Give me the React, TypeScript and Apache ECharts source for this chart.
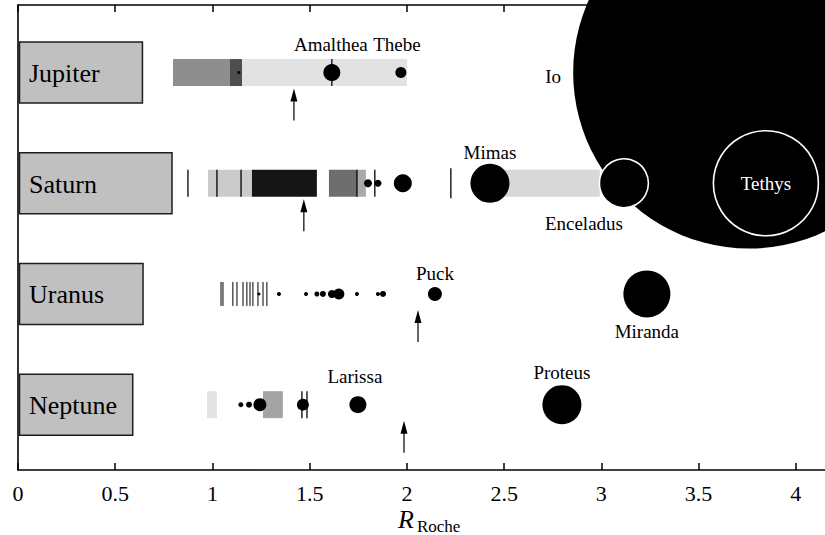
import { useEffect, useRef } from 'react';
import * as echarts from 'echarts';

// Rows, bottom to top (row index = position on the hidden y axis)
const planets = ['Neptune', 'Uranus', 'Saturn', 'Jupiter'];
// Planet radius in units of the Roche limit (width of the grey boxes)
const planetRadius = [0.59, 0.643, 0.792, 0.64];

const xTicks = [0, 0.5, 1, 1.5, 2, 2.5, 3, 3.5, 4];

// Broad rings: [start, end, kind]
const jupiterRings: [number, number, string][] = [
  [0.797, 1.09, 'halo'],
  [1.09, 1.152, 'main'],
  [1.152, 2.0, 'gossamer'],
];
const saturnRings: [number, number, string][] = [
  [0.977, 1.203, 'C'],
  [1.203, 1.537, 'B'],
  [1.599, 1.743, 'A'],
  [1.743, 1.789, 'F'],
  [2.45, 2.992, 'E'],
];
const uranusRings: [number, number, string][] = [];
const neptuneRings: [number, number, string][] = [
  [0.972, 1.023, 'faint'],
  [1.26, 1.362, 'arcs'],
];

// Narrow ringlets (vertical strokes)
const jupiterLines = [1.614];
const saturnLines = [0.874, 1.023, 1.147, 1.743, 1.835, 2.226];
const uranusLines = [1.044, 1.054, 1.105, 1.126, 1.157, 1.177, 1.193, 1.208, 1.234, 1.26, 1.28];
const neptuneLines = [1.46, 1.486];

// Satellites: [name, distance (R_Roche), symbol diameter]
const jupiterMoons: [string, number, number][] = [
  ['Metis', 1.136, 3],
  ['Amalthea', 1.614, 17],
  ['Thebe', 1.969, 11],
];
const jupiterIo: [string, number, number] = ['Io', 3.76, 352];
const saturnMoons: [string, number, number][] = [
  ['Prometheus', 1.8, 8],
  ['Pandora', 1.851, 7],
  ['Janus', 1.979, 18],
  ['Mimas', 2.427, 39],
  ['Enceladus', 3.116, 49],
  ['Tethys', 3.846, 105],
];
const uranusMoons: [string, number, number][] = [
  ['Cordelia', 1.239, 3],
  ['Ophelia', 1.342, 4],
  ['Bianca', 1.481, 4],
  ['Cressida', 1.537, 5],
  ['Desdemona', 1.568, 6],
  ['Juliet', 1.614, 8],
  ['Portia', 1.65, 11],
  ['Rosalind', 1.743, 4],
  ['Perdita', 1.851, 4],
  ['Belinda', 1.877, 6],
  ['Puck', 2.144, 14],
  ['Miranda', 3.234, 47],
];
const neptuneMoons: [string, number, number][] = [
  ['Naiad', 1.146, 5],
  ['Thalassa', 1.188, 6],
  ['Despina', 1.244, 13],
  ['Galatea', 1.465, 12],
  ['Larissa', 1.748, 17],
  ['Proteus', 2.797, 39],
];

// Arrows (synchronous orbit), per row bottom to top
const syncOrbit = [1.985, 2.057, 1.47, 1.419];

// ---------- styling / layout (not data) ----------
const SERIF = 'Liberation Serif, Times New Roman, Times, serif';
const ringColors: Record<string, string> = {
  halo: '#8e8e8e',
  main: '#4e4e4e',
  gossamer: '#e2e2e2',
  C: '#cbcbcb',
  B: '#151515',
  A: '#6e6e6e',
  F: '#a9a9a9',
  E: '#d8d8d8',
  faint: '#e4e4e4',
  arcs: '#a4a4a4',
};
const labelOffsets: Record<string, [number, number]> = {
  Amalthea: [-1, -28],
  Thebe: [-4, -28],
  Io: [-196, 4],
  Mimas: [0, -31],
  Enceladus: [-40, 40],
  Tethys: [0, 0],
  Puck: [0, -20],
  Miranda: [0, 38],
  Larissa: [-3, -28],
  Proteus: [0, -32],
};
const outlined = ['Enceladus', 'Tethys'];

const row = (p: string) => planets.indexOf(p);

const ringItems = (
  [
    ['Jupiter', jupiterRings],
    ['Saturn', saturnRings],
    ['Uranus', uranusRings],
    ['Neptune', neptuneRings],
  ] as [string, [number, number, string][]][]
).flatMap(([p, rs]) => rs.map(([a, b, k]) => ({ x0: a, x1: b, row: row(p), kind: k })));

const lineItems = (
  [
    ['Jupiter', jupiterLines],
    ['Saturn', saturnLines],
    ['Uranus', uranusLines],
    ['Neptune', neptuneLines],
  ] as [string, number[]][]
).flatMap(([p, ls]) => ls.map((x) => ({ x, row: row(p), planet: p })));

const moonItems = (
  [
    ['Jupiter', jupiterMoons],
    ['Saturn', saturnMoons],
    ['Uranus', uranusMoons],
    ['Neptune', neptuneMoons],
  ] as [string, [string, number, number][]][]
).flatMap(([p, ms]) => ms.map(([n, x, s]) => ({ name: n, x, size: s, row: row(p) })));

const toScatter = (m: { name: string; x: number; size: number; row: number }) => {
  const off = labelOffsets[m.name];
  return {
    name: m.name,
    value: [m.x, m.row, m.size],
    label: off
      ? {
          show: true,
          position: 'inside',
          offset: off,
          formatter: '{b}',
          color: m.name === 'Tethys' ? '#fff' : '#000',
          fontSize: 19,
          fontFamily: SERIF,
        }
      : { show: false },
    itemStyle: outlined.includes(m.name) ? { borderColor: '#fff', borderWidth: 1.6 } : undefined,
  };
};

const option: any = {
  animation: false,
  backgroundColor: '#fff',
  grid: { left: 18, right: 0, top: 5, bottom: 65, containLabel: false, outerBoundsMode: 'none' },
  xAxis: [
    {
      type: 'value',
      position: 'bottom',
      min: 0,
      max: 4.15,
      axisLine: { show: true, onZero: false, lineStyle: { color: '#000', width: 1.6 } },
      axisTick: { show: true, inside: true, length: 7, customValues: xTicks, lineStyle: { color: '#000', width: 1.5 } },
      axisLabel: { show: true, customValues: xTicks, fontSize: 22, lineHeight: 20, fontFamily: SERIF, color: '#000', margin: 13 },
      splitLine: { show: false },
    },
    {
      type: 'value',
      position: 'top',
      min: 0,
      max: 4.15,
      axisLine: { show: true, onZero: false, lineStyle: { color: '#000', width: 1.6 } },
      axisTick: { show: true, inside: true, length: 7, customValues: xTicks, lineStyle: { color: '#000', width: 1.5 } },
      axisLabel: { show: false },
      splitLine: { show: false },
    },
  ],
  yAxis: {
    type: 'value',
    min: -0.59,
    max: 3.61,
    axisLine: { show: true, onZero: false, lineStyle: { color: '#000', width: 1.6 } },
    axisTick: { show: false },
    axisLabel: { show: false },
    splitLine: { show: false },
  },
  graphic: [
    {
      type: 'text',
      x: 398,
      y: 506,
      style: {
        text: '{r|R}{s|Roche}',
        align: 'left',
        verticalAlign: 'top',
        fill: '#000',
        rich: {
          r: { fontSize: 26, lineHeight: 23, fontStyle: 'italic', fontFamily: SERIF, fill: '#000', verticalAlign: 'top' },
          s: { fontSize: 17, lineHeight: 17, fontFamily: SERIF, fill: '#000', verticalAlign: 'top', padding: [12, 0, 0, 3] },
        },
      },
    },
  ],
  series: [
    {
      type: 'custom',
      name: 'planets',
      z: 2,
      silent: true,
      data: planets.map((p, i) => [0, planetRadius[i], i]),
      encode: { x: [0, 1], y: 2 },
      renderItem: (params: any, api: any) => {
        const r = api.value(2);
        const p0 = api.coord([api.value(0), r]);
        const p1 = api.coord([api.value(1), r]);
        const h = 61;
        return {
          type: 'group',
          children: [
            {
              type: 'rect',
              shape: { x: p0[0] + 1.5, y: p0[1] - h / 2, width: p1[0] - p0[0] - 1.5, height: h },
              style: { fill: '#c0c0c0', stroke: '#1e1e1e', lineWidth: 1.5 },
            },
            {
              type: 'text',
              x: p0[0] + 11,
              y: p0[1] + 1,
              style: {
                text: planets[params.dataIndex],
                fontSize: 26,
                fontFamily: SERIF,
                fill: '#000',
                align: 'left',
                verticalAlign: 'middle',
              },
            },
          ],
        };
      },
    },
    {
      type: 'custom',
      name: 'rings',
      z: 2,
      silent: true,
      data: ringItems.map((r) => [r.x0, r.x1, r.row]),
      encode: { x: [0, 1], y: 2 },
      renderItem: (params: any, api: any) => {
        const it = ringItems[params.dataIndex];
        const p0 = api.coord([it.x0, it.row]);
        const p1 = api.coord([it.x1, it.row]);
        const h = 27;
        return {
          type: 'rect',
          shape: { x: p0[0], y: p0[1] - h / 2, width: p1[0] - p0[0], height: h },
          style: { fill: ringColors[it.kind] },
        };
      },
    },
    {
      type: 'custom',
      name: 'ringlets',
      z: 3,
      silent: true,
      data: lineItems.map((l) => [l.x, l.row]),
      encode: { x: 0, y: 1 },
      renderItem: (params: any, api: any) => {
        const it = lineItems[params.dataIndex];
        const p = api.coord([it.x, it.row]);
        const h = it.planet === 'Uranus' ? 24 : it.planet === 'Saturn' && it.x > 2 ? 30 : 27;
        return {
          type: 'line',
          shape: { x1: p[0], y1: p[1] - h / 2, x2: p[0], y2: p[1] + h / 2 },
          style: { stroke: '#000', lineWidth: it.planet === 'Uranus' ? 1 : 1.3 },
        };
      },
    },
    {
      type: 'custom',
      name: 'arrows',
      z: 3,
      silent: true,
      data: syncOrbit.map((x, i) => [x, i]),
      encode: { x: 0, y: 1 },
      renderItem: (params: any, api: any) => {
        const p = api.coord([api.value(0), api.value(1)]);
        const x = p[0];
        const y = p[1];
        return {
          type: 'group',
          children: [
            { type: 'line', shape: { x1: x, y1: y + 26, x2: x, y2: y + 48 }, style: { stroke: '#000', lineWidth: 1.2 } },
            {
              type: 'polygon',
              shape: { points: [[x, y + 16], [x - 3.5, y + 29], [x + 3.5, y + 29]] },
              style: { fill: '#000' },
            },
          ],
        };
      },
    },
    {
      type: 'scatter',
      name: 'Io',
      z: 4,
      clip: false,
      silent: true,
      symbol: 'circle',
      symbolSize: (v: number[]) => v[2],
      itemStyle: { color: '#000', opacity: 1 },
      emphasis: { disabled: true },
      data: [toScatter({ name: jupiterIo[0], x: jupiterIo[1], size: jupiterIo[2], row: row('Jupiter') })],
    },
    {
      type: 'scatter',
      name: 'moons',
      z: 5,
      clip: false,
      silent: true,
      symbol: 'circle',
      symbolSize: (v: number[]) => v[2],
      itemStyle: { color: '#000', opacity: 1 },
      emphasis: { disabled: true },
      data: moonItems.map(toScatter),
    },
  ],
};

export default function App() {
  const ref = useRef<HTMLDivElement>(null);
  useEffect(() => {
    if (!ref.current) return;
    const chart = echarts.init(ref.current, null, { renderer: 'svg' });
    chart.setOption(option);
    return () => chart.dispose();
  }, []);
  return (
    <div
      ref={ref}
      style={{ position: 'fixed', left: 0, top: 0, width: 825, height: 535, background: '#fff' }}
    />
  );
}
